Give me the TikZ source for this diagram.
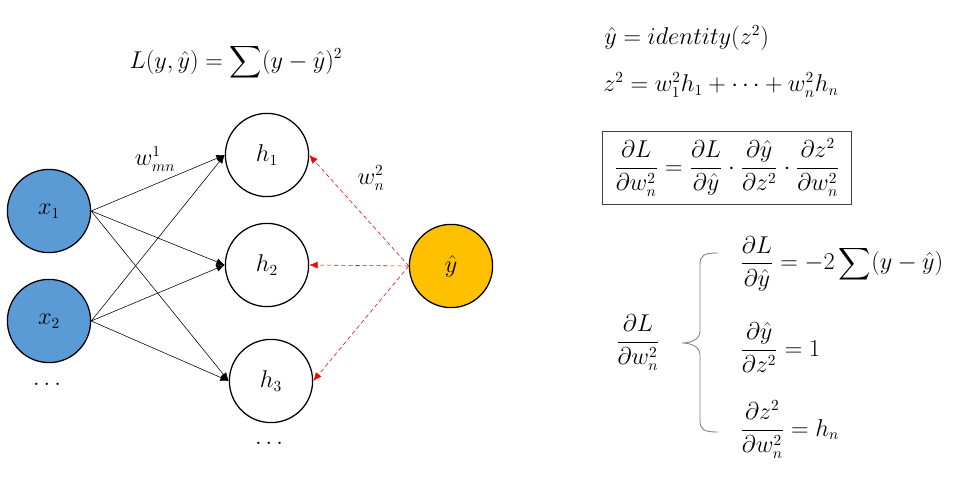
\documentclass[tikz,border=0pt]{standalone}
\usepackage{amsmath}
\usepackage{amssymb}
\usetikzlibrary{arrows.meta, positioning}
\definecolor{inputfill}{HTML}{5B9BD5}
\definecolor{outputfill}{HTML}{FFC000}
\definecolor{backcol}{HTML}{FF0000}
\definecolor{bracecol}{HTML}{7F7F7F}
\definecolor{boxborder}{HTML}{404040}
\newcommand{\eqfont}{\fontsize{16}{19}\selectfont}
\tikzset{
    neuron/.style={circle, draw=black, line width=0.9pt, minimum size=2.08cm, inner sep=0pt, font=\eqfont},
    inneuron/.style={neuron, fill=inputfill},
    outneuron/.style={neuron, fill=outputfill},
    fwdarrow/.style={-{Latex[length=6pt, width=5pt]}, black, line width=0.4pt},
    backarrow/.style={-{Latex[length=6pt, width=5pt]}, backcol, densely dashed, line width=0.4pt},
    eqnode/.style={inner sep=0pt, font=\eqfont},
    chainbox/.style={rectangle, draw=boxborder, line width=0.6pt, minimum width=6.22cm, minimum height=1.82cm, font=\eqfont},
}

\begin{document}
\begin{tikzpicture}[x=0.025cm, y=-0.025cm]
\useasboundingbox (0,0) rectangle (955,485);
% network
\node[inneuron] (x1) at (49,211) {$x_1$};
\node[inneuron] (x2) at (49,321) {$x_2$};
\node[eqnode] (xdots) at (49,384) {$\dots$};
\node[neuron] (h1) at (267,155) {$h_1$};
\node[neuron] (h2) at (267,265) {$h_2$};
\node[neuron] (h3) at (271,381) {$h_3$};
\node[eqnode] (hdots) at (271,443) {$\dots$};
\node[outneuron] (yhat) at (451,266) {$\hat{y}$};
\foreach \src in {x1,x2}
    \foreach \dst in {h1,h2,h3}
        \draw[fwdarrow] (\src.east) -- (\dst.west);
\foreach \dst in {h1,h2,h3}
    \draw[backarrow] (yhat.west) -- (\dst.east);
\node[eqnode] (wone) at (155,159) {$w^1_{mn}$};
\node[eqnode] (wtwo) at (371,178) {$w^2_n$};
\node[eqnode] (loss) at (236,62) {$\displaystyle L(y,\hat{y}) = \sum (y-\hat{y})^2$};
% equations
\node[eqnode, anchor=west] (identeq) at (604,38) {$\hat{y} = identity(z^2)$};
\node[eqnode, anchor=west] (zeq) at (603,85) {$z^2 = w^2_1 h_1 + \cdots + w^2_n h_n$};
\node[chainbox] (chain) at (727,168)
    {$\dfrac{\partial L}{\partial w^2_n} = \dfrac{\partial L}{\partial \hat{y}} \cdot \dfrac{\partial \hat{y}}{\partial z^2} \cdot \dfrac{\partial z^2}{\partial w^2_n}$};
\node[eqnode] (grad) at (638,343) {$\dfrac{\partial L}{\partial w^2_n}$};
\draw[bracecol, line width=0.6pt] (718,253) .. controls (704,253) and (700,255) .. (700,265) -- (700,331)
    .. controls (700,340) and (690,343) .. (682,343) .. controls (690,343) and (700,346) .. (700,355)
    -- (700,420) .. controls (700,430) and (704,432) .. (718,432);
\node[eqnode, anchor=west] (dlyhat) at (740,264) {$\dfrac{\partial L}{\partial \hat{y}} = -2 \displaystyle\sum (y-\hat{y})$};
\node[eqnode, anchor=west] (dyz) at (740,348) {$\dfrac{\partial \hat{y}}{\partial z^2} = 1$};
\node[eqnode, anchor=west] (dzw) at (740,430) {$\dfrac{\partial z^2}{\partial w^2_n} = h_n$};
\end{tikzpicture}
\end{document}
